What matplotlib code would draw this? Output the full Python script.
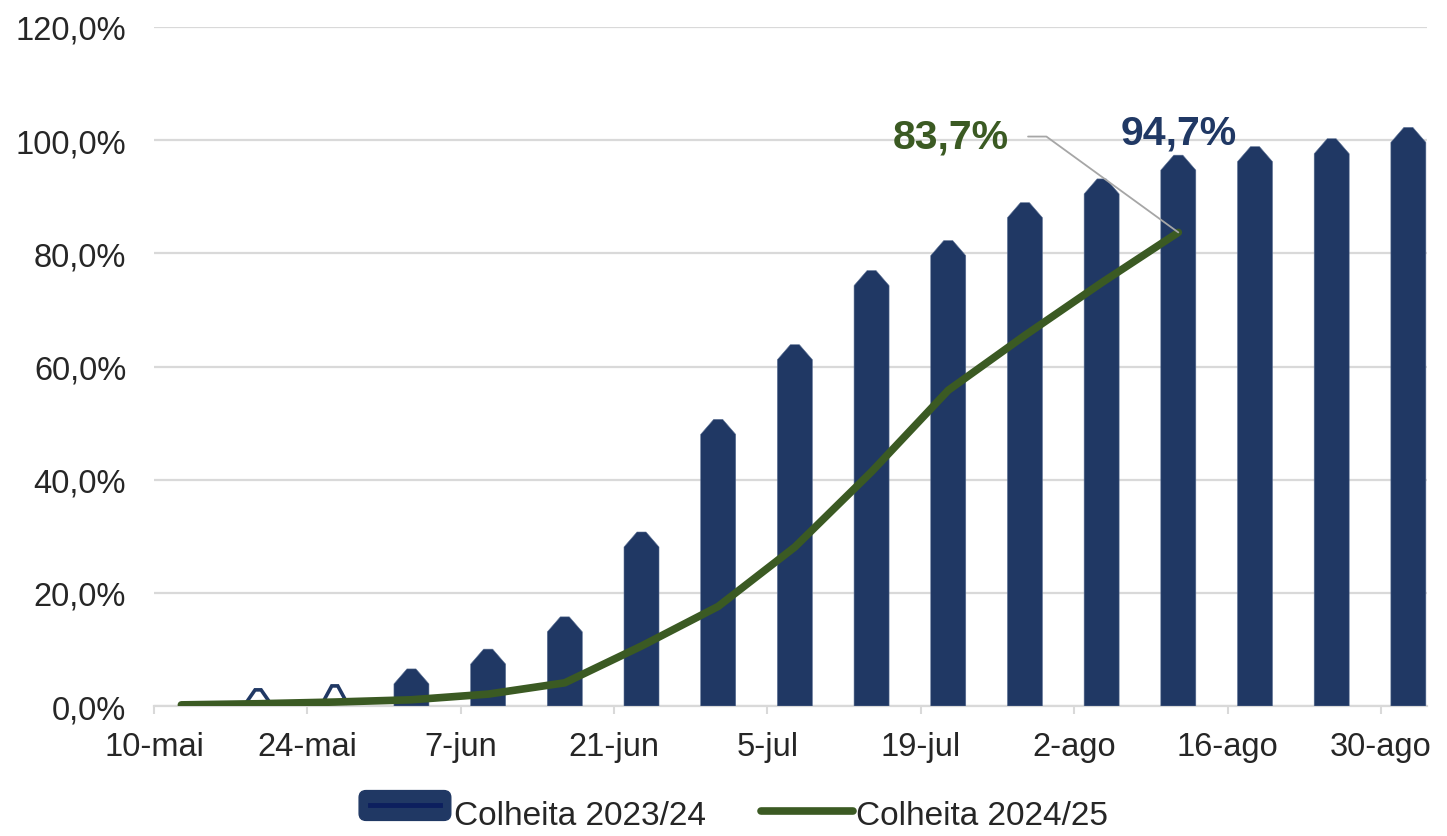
import matplotlib
matplotlib.use('Agg')
import matplotlib.pyplot as plt
import matplotlib.dates as mdates
from matplotlib.patches import Polygon, FancyBboxPatch
from matplotlib.lines import Line2D
import datetime as dt

plt.rcParams['font.family'] = ['Liberation Sans', 'DejaVu Sans']

# ---------------- data ----------------
bar_dates = ['2025-05-19', '2025-05-26', '2025-06-02', '2025-06-09', '2025-06-16',
             '2025-06-23', '2025-06-30', '2025-07-07', '2025-07-14', '2025-07-21',
             '2025-07-28', '2025-08-04', '2025-08-11', '2025-08-18', '2025-08-25',
             '2025-09-01']
bar_values = [0.2, 0.9, 3.9, 7.4, 13.1, 28.1, 48.0, 61.2, 74.3, 79.6, 86.3, 90.5,
              94.7, 96.2, 97.6, 99.6]

line_dates = ['2025-05-12', '2025-05-19', '2025-05-26', '2025-06-02', '2025-06-09',
              '2025-06-16', '2025-06-23', '2025-06-30', '2025-07-07', '2025-07-14',
              '2025-07-21', '2025-07-28', '2025-08-04', '2025-08-11']
line_values = [0.2, 0.4, 0.7, 1.1, 2.1, 4.1, 10.6, 17.6, 28.1, 41.4, 55.8, 65.5,
               74.8, 83.7]

tick_dates = ['2025-05-10', '2025-05-24', '2025-06-07', '2025-06-21', '2025-07-05',
              '2025-07-19', '2025-08-02', '2025-08-16', '2025-08-30']
tick_labels = ['10-mai', '24-mai', '7-jun', '21-jun', '5-jul', '19-jul', '2-ago',
               '16-ago', '30-ago']
y_ticks = [0, 20, 40, 60, 80, 100, 120]
series_names = ['Colheita 2023/24', 'Colheita 2024/25']
label_bar = '94,7%'
label_line = '83,7%'

# ---------------- style ----------------
NAVY = '#203864'
NAVY_DARK = '#0c1f5e'
GREEN = '#3b5a23'
GRID = '#d9d9d9'
TXT = '#262626'


def to_num(s):
    return mdates.date2num(dt.datetime.strptime(s, '%Y-%m-%d'))


W, H, DPI = 1447, 837, 100
fig = plt.figure(figsize=(W / DPI, H / DPI), dpi=DPI)
ax = fig.add_axes([154 / W, 1 - 707 / H, (1427 - 154) / W, (707 - 28) / H])

x_start = to_num(tick_dates[0])
span_days = 116.2
ax.set_xlim(x_start, x_start + span_days)
ax.set_ylim(0, 120)

# data units per pixel (for the bevelled bar tops)
dx_px = span_days / (1427 - 154)
dy_px = 120 / (707 - 28)

half_w = 17.5 * dx_px
inset = 13 * dx_px
rise = 15 * dy_px

bx = [to_num(d) + 0.5 for d in bar_dates]
for x, v in zip(bx, bar_values):
    pts = [(x - half_w, 0), (x - half_w, v), (x - half_w + inset, v + rise),
           (x + half_w - inset, v + rise), (x + half_w, v), (x + half_w, 0)]
    if v < 1.5:
        sw = 13 * dx_px
        top = v + rise
        poly = Polygon([(x - sw, 0.3), (x - 3 * dx_px, top), (x + 3 * dx_px, top),
                        (x + sw, 0.3)], closed=False, facecolor='none',
                       edgecolor=NAVY, lw=2.6, zorder=2, joinstyle='miter')
    else:
        poly = Polygon(pts, closed=True, facecolor=NAVY, edgecolor='#5a6f93',
                       lw=0.4, zorder=2)
    ax.add_patch(poly)

lx = [to_num(d) + 0.5 for d in line_dates]
ax.plot(lx, line_values, color=GREEN, lw=5.5, solid_capstyle='round',
        solid_joinstyle='round', zorder=3)

# axes styling
for s in ['top', 'right', 'left']:
    ax.spines[s].set_visible(False)
ax.spines['bottom'].set_color(GRID)
ax.spines['bottom'].set_linewidth(1.6)
ax.spines['bottom'].set_zorder(1)

ax.set_yticks(y_ticks)
ax.set_yticklabels([f"{v:.1f}%".replace('.', ',') for v in y_ticks])
ax.yaxis.grid(True, color=GRID, lw=1.6, zorder=0)
ax.set_axisbelow(True)
ax.tick_params(axis='y', length=0, pad=20, labelsize=23.5, labelcolor=TXT)

ax.set_xticks([to_num(d) for d in tick_dates])
ax.set_xticklabels(tick_labels)
ax.tick_params(axis='x', length=6, width=1.5, color=GRID, direction='out', pad=12,
               labelsize=23.5, labelcolor=TXT)

# annotations
ax.annotate(label_bar, xy=(bx[12], bar_values[12]), xytext=(0, 27),
            textcoords='offset points', ha='center', va='center',
            fontsize=29.5, fontweight='bold', color=NAVY, zorder=5)

ax.annotate(label_line, xy=(lx[-1], line_values[-1]), xytext=(-164, 69),
            textcoords='offset points', ha='center', va='center',
            fontsize=29.5, fontweight='bold', color=GREEN, zorder=5,
            arrowprops=dict(arrowstyle='-', color='#a6a6a6', lw=1.3,
                            shrinkA=12, shrinkB=0,
                            connectionstyle='angle,angleA=0,angleB=144,rad=0'))


# legend
class BarHandle:
    pass


class BarHandler:
    def legend_artist(self, legend, orig_handle, fontsize, handlebox):
        x0, y0 = handlebox.xdescent, handlebox.ydescent
        w, h = handlebox.width, handlebox.height
        tr = handlebox.get_transform()
        patch = FancyBboxPatch((x0, y0), w, h,
                               boxstyle='round,pad=0,rounding_size=5',
                               facecolor=NAVY, edgecolor=NAVY, transform=tr)
        inner = Line2D([x0 + 0.12 * w, x0 + 0.88 * w], [y0 + h / 2, y0 + h / 2],
                       color=NAVY_DARK, lw=3.5, transform=tr)
        handlebox.add_artist(patch)
        handlebox.add_artist(inner)
        return patch


h_line = Line2D([], [], color=GREEN, lw=5.5, solid_capstyle='round')
fig.legend([BarHandle(), h_line], series_names, loc='center',
           bbox_to_anchor=(0.507, 0.026), ncol=2, frameon=False, fontsize=24,
           handlelength=2.75, handleheight=1.0, handletextpad=0.1,
           columnspacing=1.65, labelcolor=TXT, borderpad=0.2,
           handler_map={BarHandle: BarHandler()})

fig.savefig('out.png', dpi=DPI, facecolor='white')
